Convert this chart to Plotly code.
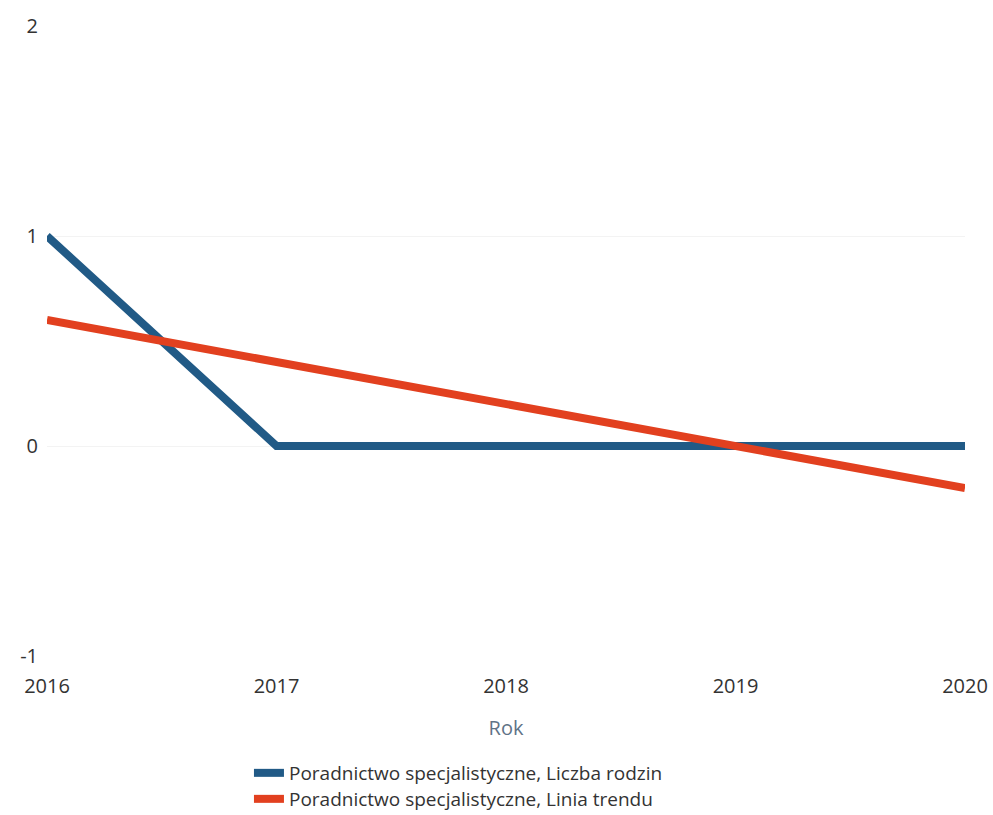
import plotly.graph_objects as go

years = [2016, 2017, 2018, 2019, 2020]
liczba_rodzin = [1, 0, 0, 0, 0]
linia_trendu = [0.6, 0.4, 0.2, 0.0, -0.2]
y_ticks = [-1, 0, 1, 2]
x_ticks = [2016, 2017, 2018, 2019, 2020]

name_a = "Poradnictwo specjalistyczne, Liczba rodzin"
name_b = "Poradnictwo specjalistyczne, Linia trendu"

fig = go.Figure()
fig.add_trace(go.Scatter(x=years, y=liczba_rodzin, mode="lines", name=name_a,
                         line=dict(color="#215a86", width=8), legend="legend"))
fig.add_trace(go.Scatter(x=years, y=linia_trendu, mode="lines", name=name_b,
                         line=dict(color="#e2401f", width=8), legend="legend2"))

font_family = "Open Sans, Noto Sans, sans-serif"
leg_common = dict(xanchor="left", yanchor="middle", orientation="v",
                  font=dict(size=19, color="#333333", family=font_family),
                  bgcolor="rgba(0,0,0,0)", itemwidth=30)

W, HT = 993, 815
T, B, L, R = 26, 159, 47, 28
H = HT - T - B  # plot height in px
fig.update_layout(
    width=W, height=HT,
    margin=dict(l=L, r=R, t=T, b=B, autoexpand=False),
    paper_bgcolor="white", plot_bgcolor="white",
    font=dict(family=font_family, color="#333333"),
    showlegend=True,
    legend=dict(x=0.22, y=-117 / H, **leg_common),
    legend2=dict(x=0.22, y=-143 / H, **leg_common),
    xaxis=dict(range=[2016, 2020], tickvals=x_ticks, ticktext=[str(t) for t in x_ticks],
               showgrid=False, zeroline=False, showline=False,
               ticks="outside", ticklen=12, tickcolor="rgba(0,0,0,0)",
               tickfont=dict(size=20, color="#333333"),
               title=dict(text="Rok", font=dict(size=20, color="#5f7387"), standoff=22)),
    yaxis=dict(range=[-1, 2], tickvals=y_ticks, ticktext=[str(t) for t in y_ticks],
               showgrid=True, gridcolor="#f3f3f3", gridwidth=1,
               zeroline=False, showline=False,
               ticks="outside", ticklen=4, tickcolor="rgba(0,0,0,0)",
               tickfont=dict(size=20, color="#333333")),
)

fig.write_html("out.html", config={"displayModeBar": False},
               post_script="document.body.style.margin='0';document.body.style.overflow='hidden';")
